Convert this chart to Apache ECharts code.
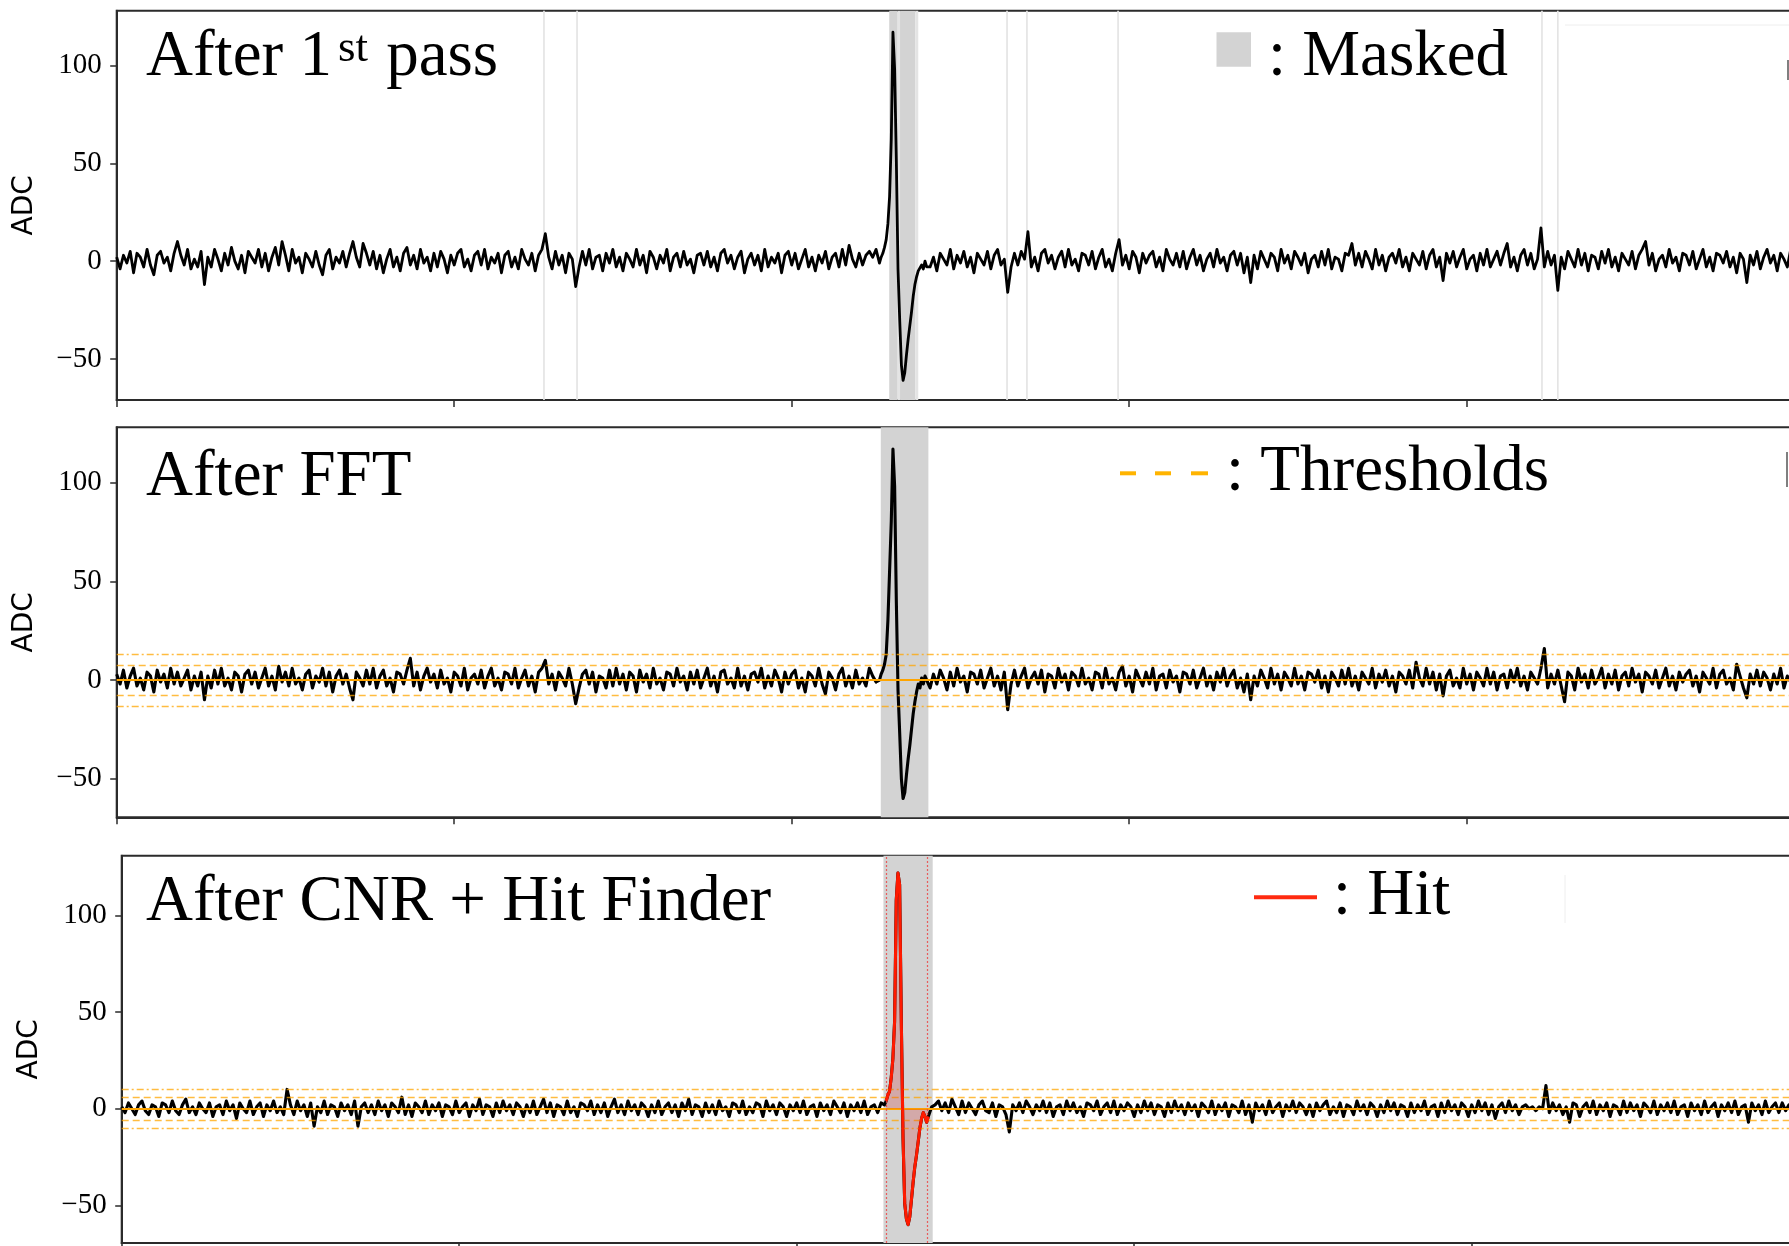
<!DOCTYPE html>
<html>
<head>
<meta charset="utf-8">
<script src="https://cdn.jsdelivr.net/npm/echarts@6/dist/echarts.min.js"></script>
<style>
  html, body { margin: 0; padding: 0; background: #fff; }
  #chart { width: 1789px; height: 1246px; }
</style>
</head>
<body>
<div id="chart"></div>
<script>
// Sample spacing of the baseline traces (ticks); the pulse window is sampled finer.
const STEP = 10;
const POST_START = 2410;

// ---- Panel 1: after 1st pass ----
const p1Pre = [
  2,-4,3,-1,5,-6,4,2,-3,6,-2,-7,3,5,-1,2,-5,4,10,3,-2,6,-4,1,-3,
  5,-12,2,-3,6,1,-5,4,-2,7,0,-4,3,-6,5,2,-1,6,-3,4,-5,2,7,-2,10,
  3,-5,6,-1,2,-6,4,1,-3,5,-2,-7,3,6,-4,2,-1,5,-3,4,10,2,-3,9,4,
  -2,5,-4,3,-6,1,6,-3,2,-5,4,7,-2,3,-4,6,-1,2,-5,4,-3,5,1,-6,3,
  -2,4,6,-3,1,-5,3,5,-2,6,-4,2,-1,4,-6,3,5,-3,2,-4,6,1,-2,4,-5,
  3,6,14,2,-4,5,-2,3,-6,4,1,-13,-3,5,-2,6,-4,2,3,-5,4,-1,6,-3,2,
  -5,4,1,-3,6,-2,3,-6,5,2,-4,3,-1,6,-5,2,4,-3,5,-2,1,-6,3,4,-2,
  5,-3,2,-5,4,6,-1,3,-4,2,5,-6,1,4,-2,3,-5,6,-3,2,-1,4,-6,3,5,
  -2,4,-4,1,6,-3,2,-5,3,-1,5,-4,2,4,-3,6,-2,8,1,-3,4,-2,3,5,2,
  6
];
const p1Post = [
  -3,2,-5,4,1,-2,6,-4,3,-1,5,-3,2,-6,4,1,-2,5,-4,3,6,-2,1,-16,-3,
  4,-2,5,1,15,-3,2,-5,4,6,-1,3,-4,2,5,-3,6,-2,1,-5,4,3,-2,5,-4,
  2,6,-3,1,-5,4,11,-2,3,-4,5,2,-6,4,-1,3,5,-3,2,-5,6,1,-2,4,-3,
  5,-4,2,6,-2,3,-5,1,4,-3,6,-1,2,-5,3,5,-2,4,-6,2,-11,3,-4,5,1,
  -3,4,2,-5,6,-1,3,-4,5,2,-2,4,-6,1,3,-3,5,-2,6,-4,2,1,-5,4,3,
  9,-2,4,-3,5,1,-4,6,-2,3,-5,2,4,-1,6,-3,2,-5,4,1,-2,5,-4,3,6,
  -3,2,-10,4,-1,5,-3,2,6,-4,1,3,-5,4,-2,6,-3,1,5,-2,4,9,-3,2,-5,
  3,6,-2,4,-4,1,17,-3,5,-2,3,-15,2,-4,5,1,-3,6,-2,4,-5,3,2,-4,5,
  -1,6,-3,2,-5,4,1,-2,5,-4,3,6,10,-2,4,-5,1,3,-3,6,-1,2,-5,4,3,
  -2,5,-4,1,6,-3,2,-5,4,3,-1,5,-3,2,-6,4,1,-11,3,-2,5,-4,2,6,-1,
  3,-5,4,1,-3,6,-2,2,-4
];

// ---- Panel 2: after FFT ----
const p2Pre = [
  3,-2,5,-4,2,6,-3,1,-5,4,2,-6,5,-1,3,-4,6,-2,4,-3,1,5,-5,2,-3,
  4,-10,2,-4,5,-2,6,-3,1,-5,4,2,-6,3,5,-2,4,-4,1,6,-3,2,-5,7,-1,
  4,-3,6,-2,1,-5,3,5,-4,2,-1,6,-3,4,-6,2,5,-2,3,-4,-10,4,1,-3,5,
  -2,6,-4,2,5,-3,1,-6,4,3,-2,5,11,-3,4,-5,2,6,-1,3,-4,5,-2,1,-6,
  4,2,-3,6,-5,1,3,-2,5,-4,2,6,-3,1,-5,4,3,-2,6,-4,1,5,-3,2,-6,
  4,6,10,-2,3,-5,4,1,-3,6,-2,-12,-4,3,5,-2,4,-6,2,1,-4,5,-3,6,-2,
  3,-5,4,2,-6,5,-1,3,-4,6,-2,1,-5,4,3,-3,6,-1,2,-5,4,-2,5,-4,1,
  6,-3,2,-6,4,5,-2,1,-4,6,-3,2,-5,3,4,-1,6,-4,2,-3,5,1,-6,4,-2,
  3,5,-4,1,-6,4,2,-3,6,-2,-7,4,1,-5,3,6,-3,2,-4,5,-2,1,-3,6,2,
  -1
];
const p2Post = [
  -4,3,-2,5,1,-5,4,-3,6,-1,2,-6,4,3,-2,5,-4,1,6,-3,2,-5,4,-15,-2,
  5,-3,2,6,-4,1,4,-2,5,-6,3,2,-4,6,-1,3,-5,4,2,-3,6,-2,1,-5,4,
  3,-4,6,-2,1,-5,4,7,-3,2,-6,5,1,-3,4,-2,6,-5,2,3,-4,5,-1,2,-6,
  4,3,-2,5,-4,1,6,-3,2,-5,4,-1,6,-3,2,5,-4,1,-6,3,-10,2,-3,5,1,
  -4,6,-2,3,-5,4,1,-3,6,-2,2,-5,4,3,-1,5,-4,2,-6,4,1,-3,5,-2,6,
  -3,2,-5,4,1,-2,6,-4,3,-1,5,-3,2,-6,4,2,-2,5,-4,9,1,-3,6,-2,4,
  -5,3,-8,2,5,-3,1,-4,6,-2,3,-5,4,1,-3,6,-2,4,-5,2,3,-4,5,-1,6,
  -3,2,-5,4,1,-2,6,16,-4,3,-2,5,-3,-11,4,2,-5,6,-1,3,-4,5,-2,1,6,
  -4,3,-2,5,-5,2,4,-3,6,-1,3,-6,4,2,-2,5,-4,1,6,-3,2,-5,4,-1,3,
  5,-3,2,-6,4,1,-2,6,-4,3,5,-2,1,-5,8,2,-4,-9,3,-2,5,-3,4,1,-5,
  3,-2,6,-4,2,-1,5,-3,4
];

// ---- Panel 3: after CNR + hit finder ----
const p3Pre = [
  1,-2,3,0,-3,2,4,-1,-3,2,1,-4,3,2,-2,4,-1,-3,2,5,-2,1,-3,3,0,
  -2,3,-4,1,2,-3,4,-1,2,-5,3,0,-2,4,-3,1,3,-4,2,-1,4,-2,1,-3,10,
  2,-3,4,-1,2,-4,3,-9,1,-2,4,-3,2,1,-4,3,-1,2,-3,4,-9,1,3,-2,2,
  -3,4,-1,2,-4,3,1,-2,6,-3,2,-4,3,1,-2,4,-3,2,-1,3,-4,2,1,-3,4,
  -2,1,3,-4,2,-1,5,-3,2,1,-4,3,-2,4,-1,2,-3,3,1,-4,2,-2,4,-3,1,
  5,-2,3,-4,2,1,-3,4,-2,1,-4,3,2,-1,4,-3,2,-2,3,-4,1,5,-2,2,-3,
  4,-1,2,-3,3,1,-4,2,-2,4,-3,1,3,-2,2,-4,3,-1,5,-3,2,1,-4,3,-2,
  2,-3,4,-1,1,-4,3,2,-2,4,-3,1,-2,3,2,-4,4,-1,2,-3,3,1,-4,2,-1,
  3,-2,4,-3,1,2,-4,3,-1,2,-3,4,1,-2,3,-4,2,-1,3,-2,4,-3,1,2,-2,
  3
];
const p3Post = [
  2,4,-1,3,-2,5,1,-3,4,-2,3,0,-3,2,4,-1,-2,3,-4,2,1,-3,-12,2,-1,
  3,-2,4,1,-3,2,-1,4,-2,3,-4,1,2,-3,4,-1,3,-2,1,-4,3,2,-1,4,-3,
  1,3,-2,4,-3,2,-1,3,1,-4,2,-2,4,-1,3,-3,2,1,-4,3,-2,4,-1,2,-3,
  3,-1,2,-4,3,1,-2,4,-3,2,-1,3,-4,2,1,-2,4,-3,2,-7,3,-1,2,-3,4,
  -2,1,3,-4,2,-1,4,-2,3,1,-3,2,-4,3,-1,2,4,-3,1,-2,3,-4,2,1,-3,
  4,-1,2,-3,3,1,-4,2,-2,4,-1,3,-3,2,1,-4,3,-2,2,-1,4,-3,1,2,-4,
  3,-2,4,-1,2,-3,3,1,-4,2,-2,4,-1,3,-3,2,-5,1,3,-2,4,-1,2,-3,1,
  2,0,1,-1,1,0,12,-2,3,-1,2,-3,1,-7,3,2,-4,1,3,-2,4,-3,2,-1,3,
  -4,2,1,-3,4,-2,3,-1,2,-4,3,1,-2,4,-3,2,-1,3,-2,4,-3,1,2,-4,3,
  -1,2,-3,4,-2,1,3,-4,2,-1,3,-2,4,-3,1,2,-7,3,-1,2,-3,4,-2,1,3,
  -2,3,-1,2,-4,3,1,-2,4
];

// Pulse window, sampled every 5 ticks
const pulseX = [2260,2265,2270,2275,2280,2285,2290,2295,2300,2305,2310,2315,2320,2325,2330,
                2335,2340,2345,2350,2355,2360,2365,2370,2375,2380,2385,2390,2395,2400];
const p1Pulse = [-1,2,4,7,11,19,33,62,117,98,52,-4,-30,-53,-61,-57,-48,-40,-33,-26,-18,-12,-8,-5,-6,-2,-4,0,-3];
const p2Pulse = [0,3,5,8,13,30,55,80,117,98,40,-5,-27,-50,-60,-57,-48,-40,-33,-25,-17,-11,-6,-2,-4,1,-2,2,0];
const p3Pulse = [2,4,7,9,16,26,45,108,122,116,45,-15,-49,-57,-60,-56,-47,-38,-30,-24,-17,-10,-5,-2,-4,-7,-4,-3,1];

// Masked regions
const p1MaskBands = [[2289, 2314], [2321, 2366]];
const p1MaskEdges = [[2314, 2321], [2366, 2375]];
const p1MaskLines = [1266, 1364, 2638, 2697, 2967, 4223, 4270];
const p2MaskBand = [2264, 2405];
const p3MaskBand = [2257, 2403];

// Thresholds (inner, outer)
const p2Thresholds = [7.5, 13.2];
const p3Thresholds = [5.8, 10.3];

// Hit window found in panel 3
const hitRange = [2264, 2386];

// Y tick labels
const yTicks = [-50, 0, 50, 100];

// ---------------------------------------------------------------
function buildTrace(pre, pulse, post) {
  const pts = [];
  pre.forEach((v, i) => pts.push([i * STEP, v]));
  pulseX.forEach((x, i) => pts.push([x, pulse[i]]));
  post.forEach((v, i) => pts.push([POST_START + i * STEP, v]));
  return pts;
}

const PX_PER_TICK = 0.3375;        // pixels per sample tick
const PLOT_W = 1700;
const X_MAX = PLOT_W / PX_PER_TICK;

const panels = [
  { left: 116.7, top: 10.7, height: 389.3, ymin: -71, ymax: 128 },
  { left: 116.7, top: 427.3, height: 390, ymin: -69.5, ymax: 128 },
  { left: 121.7, top: 855.7, height: 387.3, ymin: -69.5, ymax: 131 }
];

const grids = panels.map(p => ({
  left: p.left, top: p.top, width: PLOT_W, height: p.height,
  show: true, borderColor: '#2b2b2b', borderWidth: 2, backgroundColor: 'transparent',
  outerBoundsMode: 'none'
}));

const xAxes = panels.map((p, i) => ({
  type: 'value', gridIndex: i, min: 0, max: X_MAX, interval: 1000,
  axisLine: { show: true, onZero: false, lineStyle: { color: '#2b2b2b', width: 2 } },
  axisTick: { show: true, inside: false, length: 7, lineStyle: { color: '#2b2b2b', width: 1.5 } },
  axisLabel: { show: false },
  splitLine: { show: false }
}));

const minus = v => (v < 0 ? '\u2212' + Math.abs(v) : String(v));

const yAxes = panels.map((p, i) => ({
  type: 'value', gridIndex: i, min: p.ymin, max: p.ymax,
  axisLine: { show: true, onZero: false, lineStyle: { color: '#2b2b2b', width: 2 } },
  axisTick: { show: true, inside: false, length: 6.5, customValues: yTicks,
              lineStyle: { color: '#2b2b2b', width: 1.5 } },
  axisLabel: { show: true, customValues: yTicks, margin: 15, formatter: minus,
               color: '#000', fontSize: 29, fontFamily: '"Liberation Serif", serif' },
  splitLine: { show: false },
  name: 'ADC', nameLocation: 'middle', nameGap: 78,
  nameTextStyle: { color: '#000', fontSize: 28, fontFamily: '"DejaVu Sans", sans-serif' }
}));

const MASK_GRAY = '#d3d3d3';
const MASK_LIGHT = '#e4e4e4';

function areaFromRanges(ranges, color) {
  return ranges.map(r => [{ xAxis: r[0], itemStyle: { color } }, { xAxis: r[1] }]);
}

const orange = '#ffa500';
function thresholdLines(th) {
  const soft = 'rgba(255,165,0,0.75)';
  return [
    { yAxis: 0, lineStyle: { color: orange, width: 2.2, type: 'solid' } },
    { yAxis: th[0], lineStyle: { color: soft, width: 1.4, type: [7, 4] } },
    { yAxis: -th[0], lineStyle: { color: soft, width: 1.4, type: [7, 4] } },
    { yAxis: th[1], lineStyle: { color: soft, width: 1.4, type: [7, 3, 2, 3] } },
    { yAxis: -th[1], lineStyle: { color: soft, width: 1.4, type: [7, 3, 2, 3] } }
  ];
}

const traces = [
  buildTrace(p1Pre, p1Pulse, p1Post),
  buildTrace(p2Pre, p2Pulse, p2Post),
  buildTrace(p3Pre, p3Pulse, p3Post)
];
const traceWidth = [2.8, 3.1, 3.1];

const series = traces.map((data, g) => ({
  type: 'line', xAxisIndex: g, yAxisIndex: g, data: data, z: 3,
  symbol: 'none', silent: true, animation: false,
  lineStyle: { color: '#000', width: traceWidth[g], join: 'round' }
}));

series[0].markArea = {
  silent: true,
  data: areaFromRanges(p1MaskBands, MASK_GRAY)
    .concat(areaFromRanges(p1MaskEdges, MASK_LIGHT))
    .concat(areaFromRanges(p1MaskLines.map(x => [x - 2.5, x + 2.5]), MASK_LIGHT))
};
series[1].markArea = { silent: true, data: areaFromRanges([p2MaskBand], MASK_GRAY) };
series[1].markLine = { silent: true, symbol: 'none', label: { show: false }, animation: false,
                       data: thresholdLines(p2Thresholds) };
series[2].markArea = { silent: true, data: areaFromRanges([p3MaskBand], MASK_GRAY) };
series[2].markLine = { silent: true, symbol: 'none', label: { show: false }, animation: false,
                       data: thresholdLines(p3Thresholds) };

const hitData = pulseX
  .map((x, i) => [x, p3Pulse[i]])
  .filter(d => d[0] >= hitRange[0] && d[0] <= hitRange[1] + 4);

series.push({
  type: 'line', xAxisIndex: 2, yAxisIndex: 2, data: hitData, z: 6,
  symbol: 'none', silent: true, animation: false,
  lineStyle: { color: '#ff1a00', width: 3, join: 'round' },
  areaStyle: { color: 'rgba(215,40,40,0.35)', origin: 0 },
  markLine: {
    silent: true, symbol: 'none', label: { show: false }, animation: false,
    lineStyle: { color: 'rgba(235,70,70,0.85)', width: 1.2, type: [2, 2] },
    data: hitRange.map(x => ({ xAxis: x }))
  }
});

// ---- Panel titles and legend keys ----
const SERIF = '"Liberation Serif", serif';
const TITLE_SIZE = 65;
const MID = 0.26;     // baseline-to-middle offset of the serif face, in em
const mctx = document.createElement('canvas').getContext('2d');
function textWidth(t, size) {
  mctx.font = size + 'px ' + SERIF;
  return mctx.measureText(t).width;
}
function label(text, x, baseline, size) {
  size = size || TITLE_SIZE;
  return {
    type: 'text', x: x, y: baseline - MID * size, silent: true, z: 20,
    style: { text: text, font: size + 'px ' + SERIF, fill: '#000',
             textAlign: 'left', textVerticalAlign: 'middle', align: 'left', verticalAlign: 'middle' }
  };
}

const t1x = 146;
const w1 = textWidth('After 1', TITLE_SIZE);
const SUP_SIZE = 45;
const wSup = textWidth('st', SUP_SIZE);

const graphics = [
  label('After 1', t1x, 75),
  label('st', t1x + w1 + 6, 61, SUP_SIZE),
  label(' pass', t1x + w1 + 8 + wSup, 75),
  { type: 'rect', silent: true, z: 20, shape: { x: 1216.5, y: 32.3, width: 34.5, height: 34.5 },
    style: { fill: MASK_GRAY } },
  label(': Masked', 1268, 75),

  label('After FFT', 146, 495),
  { type: 'rect', silent: true, z: 20, shape: { x: 1120, y: 471.3, width: 16, height: 4 }, style: { fill: '#ffb400' } },
  { type: 'rect', silent: true, z: 20, shape: { x: 1155, y: 471.3, width: 16, height: 4 }, style: { fill: '#ffb400' } },
  { type: 'rect', silent: true, z: 20, shape: { x: 1191, y: 471.3, width: 17, height: 4 }, style: { fill: '#ffb400' } },
  label(': Thresholds', 1226, 490),

  label('After CNR + Hit Finder', 146, 920),
  { type: 'rect', silent: true, z: 20, shape: { x: 1254, y: 895.3, width: 63, height: 4 }, style: { fill: '#ff2a10' } },
  label(': Hit', 1333, 914),

  // edges of legend frames at the right border
  { type: 'line', silent: true, z: 20, shape: { x1: 1565, y1: 25, x2: 1789, y2: 25 }, style: { stroke: '#eeeeee', lineWidth: 1 } },
  { type: 'line', silent: true, z: 20, shape: { x1: 1565, y1: 875, x2: 1565, y2: 923 }, style: { stroke: '#eeeeee', lineWidth: 1 } },
  { type: 'line', silent: true, z: 20, shape: { x1: 1788, y1: 60, x2: 1788, y2: 80 }, style: { stroke: '#555', lineWidth: 1.5 } },
  { type: 'line', silent: true, z: 20, shape: { x1: 1787, y1: 452, x2: 1787, y2: 487 }, style: { stroke: '#555', lineWidth: 1.5 } }
];

const chart = echarts.init(document.getElementById('chart'), null, { renderer: 'canvas' });
chart.setOption({
  animation: false,
  backgroundColor: '#ffffff',
  grid: grids,
  xAxis: xAxes,
  yAxis: yAxes,
  series: series,
  graphic: graphics
});
</script>
</body>
</html>
